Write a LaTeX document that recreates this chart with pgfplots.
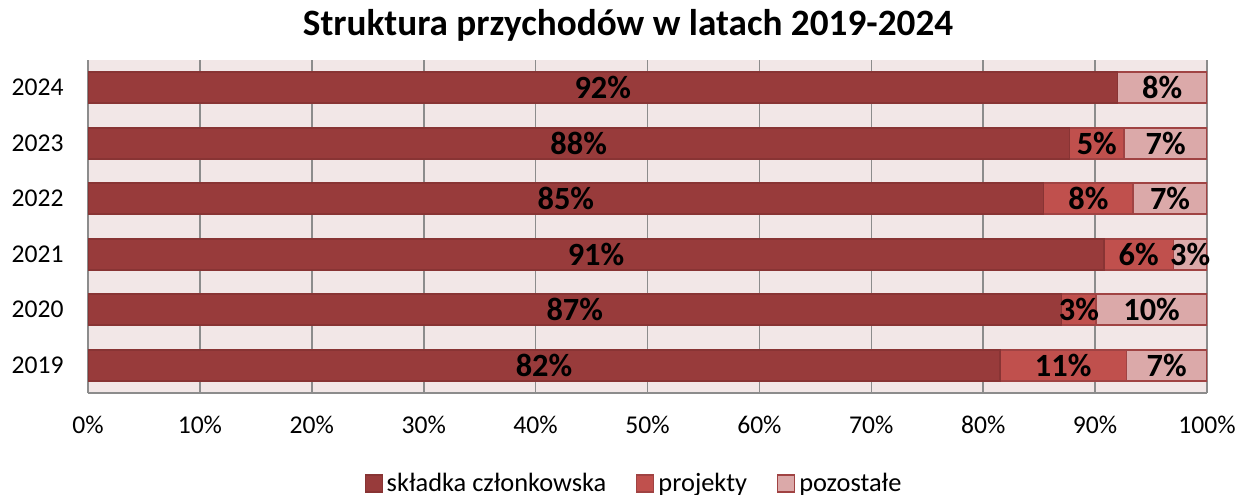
\documentclass[border=0pt]{standalone}
\usepackage{fontspec}
\setmainfont{Carlito}
\usepackage{pgfplots}
\pgfplotsset{compat=1.18}
\usepackage{pgfplotstable}
\definecolor{cA}{HTML}{983B3B}
\definecolor{cB}{HTML}{C0504D}
\definecolor{cC}{HTML}{DBA9A9}
\definecolor{eA}{HTML}{883434}
\definecolor{eB}{HTML}{A04343}
\definecolor{bg}{HTML}{F2E7E7}
\definecolor{gridc}{HTML}{8C8C8C}
\pgfplotstableread{
y a b c la lb lc
0 81.5 11.3 7.2 82 11 7
1 87.0 3.1 9.9 87 3 10
2 90.8 6.2 3.0 91 6 3
3 85.4 8.0 6.6 85 8 7
4 87.7 4.9 7.4 88 5 7
5 92.0 0.0 8.0 92 0 8
}\data
\pgfplotsset{
  sq/.style={legend image code/.code={\draw[##1, line width=0.6pt] (0bp,-4.25bp) rectangle (8.5bp,4.25bp);}},
  common/.style={
    at={(44bp,51bp)}, anchor=south west,
    width=559.5bp, height=166.5bp, scale only axis,
    xmin=0, xmax=100, ymin=-0.5, ymax=5.5,
  },
}
\begin{document}
\begin{tikzpicture}
\useasboundingbox (0,0) rectangle (623bp,247.5bp);
\begin{axis}[
  common,
  xbar stacked, bar width=15.5bp,
  xtick={0,10,...,100},
  xticklabels={0\%,10\%,20\%,30\%,40\%,50\%,60\%,70\%,80\%,90\%,100\%},
  ytick={0,1,2,3,4,5},
  yticklabels={2019,2020,2021,2022,2023,2024},
  major tick length=0pt,
  xmajorgrids, major grid style={gridc, line width=0.8pt},
  axis x line*=bottom, axis y line*=left,
  axis line style={gridc, line width=0.8pt},
  axis background/.style={fill=bg},
  tick label style={font=\fontsize{12.8bp}{15bp}\selectfont, text=black},
  xticklabel style={yshift=-8.2bp},
  yticklabel style={xshift=-8.7bp},
  title={Struktura przychodów w latach 2019-2024},
  title style={at={(0.4826,1)}, anchor=base, yshift=6.5bp, font=\bfseries\fontsize{18.6bp}{22bp}\selectfont},
  legend style={at={(0.4888,-0.2718)}, anchor=center, draw=none, fill=none,
    font=\fontsize{13.2bp}{15bp}\selectfont,
    /tikz/every even column/.append style={column sep=13bp},
    cells={anchor=west}},
  legend columns=3,
]
\addplot[fill=cA, draw=eA, line width=0.8pt, sq] table[x=a, y=y] {\data};
\addlegendentry{składka członkowska}
\addplot[fill=cB, draw=eB, line width=0.8pt, sq] table[x=b, y=y] {\data};
\addlegendentry{projekty}
\addplot[fill=cC, draw=eB, line width=0.8pt, sq] table[x=c, y=y] {\data};
\addlegendentry{pozostałe}
\end{axis}
\begin{axis}[
  common, hide axis,
  point meta=explicit symbolic,
  nodes near coords={\pgfplotspointmeta\%},
  every node near coord/.append style={anchor=center, font=\bfseries\fontsize{16.2bp}{19bp}\selectfont, text=black, inner sep=0pt},
]
\addplot[only marks, mark=*, mark size=0pt, mark options={draw=none, fill=none}] table[x expr=\thisrow{a}/2, y=y, meta=la] {\data};
\addplot[only marks, mark=*, mark size=0pt, mark options={draw=none, fill=none}, skip coords between index={5}{6}] table[x expr=\thisrow{a}+\thisrow{b}/2, y=y, meta=lb] {\data};
\addplot[only marks, mark=*, mark size=0pt, mark options={draw=none, fill=none}] table[x expr=\thisrow{a}+\thisrow{b}+\thisrow{c}/2, y=y, meta=lc] {\data};
\end{axis}
\end{tikzpicture}
\end{document}
